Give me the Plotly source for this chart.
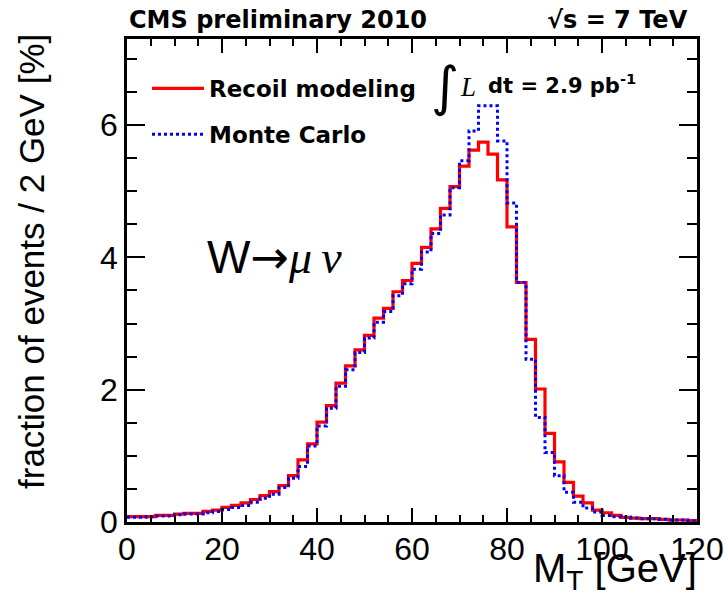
import plotly.graph_objects as go

# ---- data (2 GeV bins from 0 to 120 GeV) ----
bin_edges = list(range(0, 122, 2))  # 61 edges

recoil_modeling = [
    0.08, 0.08, 0.08, 0.10, 0.10, 0.12, 0.13, 0.13, 0.16, 0.18,   # 0-20
    0.22, 0.25, 0.29, 0.34, 0.40, 0.46, 0.55, 0.70, 0.94, 1.18,   # 20-40
    1.51, 1.76, 2.10, 2.36, 2.60, 2.82, 3.08, 3.23, 3.48, 3.65,   # 40-60
    3.91, 4.15, 4.43, 4.74, 5.07, 5.38, 5.62, 5.74, 5.56, 5.17,   # 60-80
    4.46, 3.62, 2.76, 2.01, 1.34, 0.91, 0.60, 0.39, 0.29, 0.18,   # 80-100
    0.14, 0.10, 0.07, 0.06, 0.05, 0.05, 0.04, 0.03, 0.03, 0.02,   # 100-120
]

monte_carlo = [
    0.07, 0.07, 0.08, 0.09, 0.09, 0.11, 0.12, 0.12, 0.14, 0.16,   # 0-20
    0.19, 0.22, 0.25, 0.30, 0.36, 0.42, 0.52, 0.66, 0.84, 1.15,   # 20-40
    1.45, 1.72, 2.05, 2.30, 2.56, 2.78, 3.02, 3.18, 3.42, 3.60,   # 40-60
    3.82, 4.08, 4.36, 4.64, 5.05, 5.46, 5.91, 6.29, 6.29, 5.76,   # 60-80
    4.82, 3.62, 2.46, 1.58, 1.05, 0.70, 0.45, 0.30, 0.21, 0.15,   # 80-100
    0.10, 0.08, 0.07, 0.06, 0.05, 0.05, 0.04, 0.03, 0.03, 0.02,   # 100-120
]

series_names = ["Recoil modeling", "Monte Carlo"]

# ---- figure ----
W, H = 728, 595
L_M, R_M, T_M, B_M = 127, 31, 39, 73
PW, PH = W - L_M - R_M, H - T_M - B_M


def px_x(p):
    return (p - L_M) / PW


def px_y(p):
    return (H - B_M - p) / PH


fig = go.Figure()
fig.add_trace(go.Scatter(
    x=bin_edges, y=recoil_modeling + [recoil_modeling[-1]],
    mode="lines", name=series_names[0], legendgroup="a",
    line=dict(color="#ff0000", width=3.2, shape="hv"),
))
fig.add_trace(go.Scatter(
    x=bin_edges, y=monte_carlo + [monte_carlo[-1]],
    mode="lines", name=series_names[1], legendgroup="b",
    line=dict(color="#0000ff", width=3, shape="hv", dash="3px,3px"),
))

tick_font = dict(family="Liberation Sans, Arial, sans-serif", size=32, color="black")


def axis_style(rng, dtick, ticklen, minor_dtick, minor_len, standoff):
    return dict(
        range=rng, tickmode="linear", tick0=0, dtick=dtick,
        ticks="inside", ticklen=ticklen, tickwidth=2, tickcolor="#000000",
        showline=True, linewidth=2.5, linecolor="#000000", mirror="allticks",
        showgrid=False, zeroline=False, tickfont=tick_font,
        ticklabelstandoff=standoff,
        layer="above traces",
        minor=dict(tickmode="linear", tick0=0, dtick=minor_dtick, ticks="inside",
                   ticklen=minor_len, tickwidth=1.5, tickcolor="#000000",
                   showgrid=False),
    )


fig.update_layout(
    template="none",
    width=W, height=H,
    margin=dict(l=L_M, r=R_M, t=T_M, b=B_M),
    paper_bgcolor="white", plot_bgcolor="white",
    showlegend=True,
    legend=dict(
        x=px_x(147), y=px_y(67), xanchor="left", yanchor="top",
        font=dict(family="DejaVu Sans", size=23, color="black", weight="bold"),
        bgcolor="rgba(0,0,0,0)", borderwidth=0, itemwidth=52, tracegroupgap=13,
        traceorder="grouped",
    ),
    xaxis=axis_style([0, 120], 20, 14, 5, 7, -3),
    yaxis=axis_style([0, 7.3], 2, 18, 0.5, 10, 0),
)

annotations = [
    # header
    dict(text="<b>CMS preliminary 2010</b>", x=px_x(127), y=px_y(20),
         xanchor="left", yanchor="middle",
         font=dict(family="DejaVu Sans", size=24, color="black")),
    dict(text="<b>\u221as = 7 TeV</b>", x=px_x(690), y=px_y(20),
         xanchor="right", yanchor="middle",
         font=dict(family="DejaVu Sans", size=24, color="black")),
    # luminosity
    dict(text="\u222b", x=px_x(429), y=px_y(86),
         xanchor="left", yanchor="middle",
         font=dict(family="DejaVu Sans", size=54, color="black")),
    dict(text="<i>L</i>", x=px_x(458), y=px_y(87),
         xanchor="left", yanchor="middle",
         font=dict(family="Liberation Serif", size=27, color="black")),
    dict(text="<b>dt = 2.9 pb<sup>-1</sup></b>", x=px_x(486), y=px_y(84),
         xanchor="left", yanchor="middle",
         font=dict(family="DejaVu Sans", size=21, color="black")),
    # process label
    dict(text="W<span style='font-family:DejaVu Sans'>\u2192</span>"
              "<span style='font-family:Liberation Serif'><i>\u03bc\u2009\u03bd</i></span>",
         x=px_x(205), y=px_y(257), xanchor="left", yanchor="middle",
         font=dict(family="Liberation Sans, Arial", size=46, color="black")),
    # axis titles
    dict(text="M<sub>T</sub> [GeV]", x=px_x(699), y=px_y(571),
         xanchor="right", yanchor="middle",
         font=dict(family="Liberation Sans, Arial", size=40, color="black")),
    dict(text="fraction of events / 2 GeV [%]", x=px_x(31), y=px_y(262),
         xanchor="center", yanchor="middle", textangle=-90,
         font=dict(family="Liberation Sans, Arial", size=35, color="black")),
]
for a in annotations:
    a.update(xref="paper", yref="paper", showarrow=False)
fig.update_layout(annotations=annotations)

fig.write_html("out.html")
